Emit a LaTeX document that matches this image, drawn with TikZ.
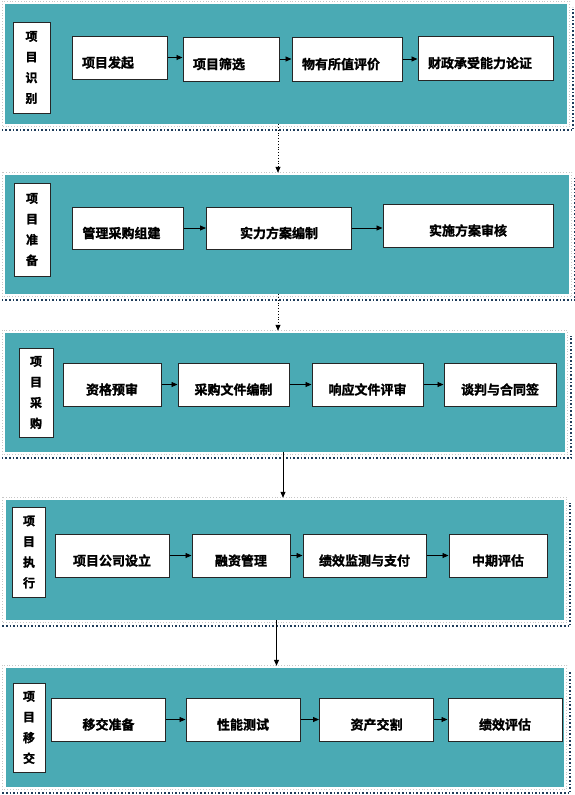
\documentclass[tikz,border=0pt]{standalone}
\usepackage{fontspec}
\newfontfamily\cjk{Noto Sans CJK SC}[BoldFont={Noto Sans CJK SC Bold}, BoldFeatures={FakeBold=1.5}]
\usetikzlibrary{positioning, calc, arrows.meta}
\definecolor{stageteal}{RGB}{74,170,180}
\definecolor{shadownavy}{RGB}{30,60,90}

\begin{document}
\begin{tikzpicture}[x=1pt, y=-1pt,
    stage/.style={fill=stageteal, inner sep=0pt},
    stagerim/.style={draw=gray!45, dotted, line width=0.8pt},
    stageshadow/.style={draw=shadownavy, dotted, line width=1.6pt},
    phase/.style={draw=black!85, fill=white, line width=1pt, inner sep=0pt, align=center,
        font=\cjk\bfseries\fontsize{12}{20.7}\selectfont},
    task/.style={draw=black!85, fill=white, line width=1pt, inner sep=0pt,
        text height=20pt, text depth=0pt, font=\cjk\bfseries\fontsize{13}{15}\selectfont},
    lefttask/.style={task, text width=#1, align=left, inner xsep=10pt},
    flow/.style={-{Triangle[length=6pt,width=5pt]}, line width=0.8pt},
    link/.style={-{Triangle[length=6pt,width=5pt]}, line width=0.8pt, shorten >=2pt}]
    \useasboundingbox (0,0) rectangle (574,795);

    % 五个阶段的底色
    \node[stage, minimum width=562, minimum height=120] (s1) at (286,64) {};
    \node[stage, minimum width=564, minimum height=119] (s2) at (287,234.5) {};
    \node[stage, minimum width=560, minimum height=119] (s3) at (285,392.5) {};
    \node[stage, minimum width=558.5, minimum height=120] (s4) at (284.75,560) {};
    \node[stage, minimum width=558.5, minimum height=119] (s5) at (284.75,727.5) {};

    % 虚线边框与阴影
    \foreach \s in {s1,s2,s3,s4,s5} {
        \draw[stagerim] ([shift={(-2.5pt,2.5pt)}]\s.north west) rectangle ([shift={(2.5pt,-2.5pt)}]\s.south east);
        \draw[stageshadow] ([shift={(-3pt,-6pt)}]\s.south west) -- ([shift={(6pt,-6pt)}]\s.south east)
            -- ([shift={(6pt,-3pt)}]\s.north east);
    }

    % 项目识别
    \node[phase, minimum width=37, minimum height=91] (l1) at (31.5,67.5) {项\\目\\识\\别};
    \node[lefttask=75pt, minimum height=43] (a1) at (119.5,57.5) {项目发起};
    \node[lefttask=76pt, minimum height=44] (a2) at (231,59) {项目筛选};
    \node[lefttask=90pt, minimum height=44] (a3) at (347,59) {物有所值评价};
    \node[lefttask=115pt, minimum height=44] (a4) at (485.5,58) {财政承受能力论证};
    \draw[flow] (a1.east) -- (a1.east -| a2.west);
    \draw[flow] (a2.east) -- (a2.east -| a3.west);
    \draw[flow] (a3.east) -- (a3.east -| a4.west);

    % 项目准备
    \node[phase, minimum width=36, minimum height=93] (l2) at (32,229.5) {项\\目\\准\\备};
    \node[lefttask=91pt, minimum height=42] (b1) at (128,228) {管理采购组建};
    \node[task, minimum width=145, minimum height=42] (b2) at (279,228) {实力方案编制};
    \node[task, minimum width=170, minimum height=43] (b3) at (468,225.5) {实施方案审核};
    \draw[flow] (b1.east) -- (b1.east -| b2.west);
    \draw[flow] (b2.east) -- (b2.east -| b3.west);

    % 项目采购
    \node[phase, minimum width=34, minimum height=89] (l3) at (36,392.5) {项\\目\\采\\购};
    \node[task, minimum width=98, minimum height=43] (c1) at (112,384.5) {资格预审};
    \node[task, minimum width=111, minimum height=43] (c2) at (233.5,384.5) {采购文件编制};
    \node[task, minimum width=111, minimum height=43] (c3) at (367.5,384.5) {响应文件评审};
    \node[task, minimum width=112, minimum height=43] (c4) at (500,384.5) {谈判与合同签};
    \draw[flow] (c1) -- (c2);
    \draw[flow] (c2) -- (c3);
    \draw[flow] (c3) -- (c4);

    % 项目执行
    \node[phase, minimum width=33, minimum height=90] (l4) at (29,552) {项\\目\\执\\行};
    \node[task, minimum width=114, minimum height=43] (d1) at (112,555.5) {项目公司设立};
    \node[task, minimum width=98, minimum height=43] (d2) at (241,555.5) {融资管理};
    \node[task, minimum width=123, minimum height=43] (d3) at (364.5,555.5) {绩效监测与支付};
    \node[task, minimum width=98, minimum height=43] (d4) at (498,555.5) {中期评估};
    \draw[flow] (d1) -- (d2);
    \draw[flow] (d2) -- (d3);
    \draw[flow] (d3) -- (d4);

    % 项目移交
    \node[phase, minimum width=32, minimum height=89] (l5) at (29,727.5) {项\\目\\移\\交};
    \node[task, minimum width=114.5, minimum height=43] (e1) at (108.5,719.5) {移交准备};
    \node[task, minimum width=114, minimum height=43] (e2) at (243,719.5) {性能测试};
    \node[task, minimum width=114, minimum height=43] (e3) at (376.5,719.5) {资产交割};
    \node[task, minimum width=114, minimum height=43] (e4) at (505,719.5) {绩效评估};
    \draw[flow] (e1) -- (e2);
    \draw[flow] (e2) -- (e3);
    \draw[flow] (e3) -- (e4);

    % 阶段之间的箭头
    \draw[link, dotted] ([xshift=-8pt]s1.south) -- ([xshift=-9pt]s2.north);
    \draw[link, dotted] ([xshift=-9pt]s2.south) -- ([xshift=-7pt]s3.north);
    \draw[link] ([xshift=-2pt]s3.south) -- ([xshift=-1.75pt]s4.north);
    \draw[link] ([xshift=-8.25pt]s4.south) -- ([xshift=-8.25pt]s5.north);

\end{tikzpicture}
\end{document}
